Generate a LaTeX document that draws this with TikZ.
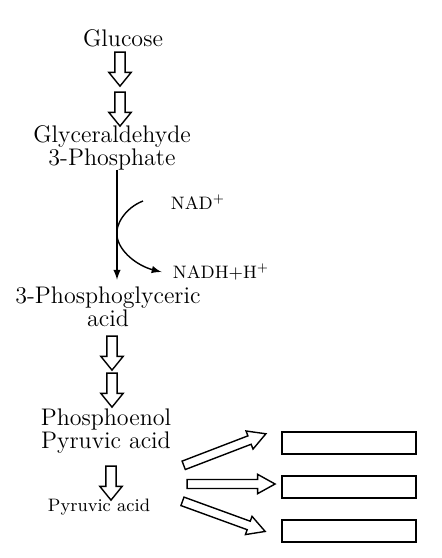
\documentclass[tikz,border=0pt]{standalone}
\usetikzlibrary{shapes.arrows}
\begin{document}
\begin{tikzpicture}[>=latex, x=.5pt, y=-.5pt, line width=.7pt,
    fat/.style={single arrow, draw, inner sep=2.2pt, single arrow head extend=3pt, single arrow tip angle=78, minimum height=17pt},
    thin/.style={single arrow, draw, inner sep=1.9pt, single arrow head extend=2.6pt, single arrow tip angle=58, minimum height=44pt},
    big/.style={font=\fontsize{12}{11.5}\selectfont, align=center},
    small/.style={font=\fontsize{9}{10}\selectfont},
    blank/.style={draw, minimum width=67pt, minimum height=11pt}]
\useasboundingbox (0,0) rectangle (441,558);
\node[big] (glu) at (123,38) {Glucose};
\node[big] (gap) at (112,148) {Glyceraldehyde\\3-Phosphate};
\node[big] (pga) at (108,307) {3-Phosphoglyceric\\acid};
\node[big] (pep) at (106,431) {Phosphoenol\\Pyruvic acid};
\node[small] (pyr) at (99,507) {Pyruvic acid};
\node[small] (nad) at (198,202) {NAD\textsuperscript{+}};
\node[small] (nadh) at (221,272) {NADH+H\textsuperscript{+}};

\foreach \x/\y/\n in {120/66/1, 120/106/2, 112/350/3, 112/387/4, 111/480/5}
    \node[fat, rotate=-90] (d\n) at (\x,\y) {};

\coordinate (ax) at (117,0);
\draw[->] ([yshift=4pt]gap.south -| ax) -- (pga.north -| ax);
\coordinate (s) at (143,201);
\coordinate (m) at (117,236);
\draw[->] (s) .. controls (125,208) and (115,225) .. (m)
    .. controls (119,252) and (138,266) .. ([xshift=-2pt]nadh.west);

\foreach \x/\y/\a/\n in {221/451/21/1, 227/484/0/2, 220/515/-20/3}
    \node[thin, rotate=\a] (f\n) at (\x,\y) {};
\foreach \y/\n in {443/1, 487/2, 531/3}
    \node[blank] (b\n) at (349,\y) {};
\end{tikzpicture}
\end{document}
